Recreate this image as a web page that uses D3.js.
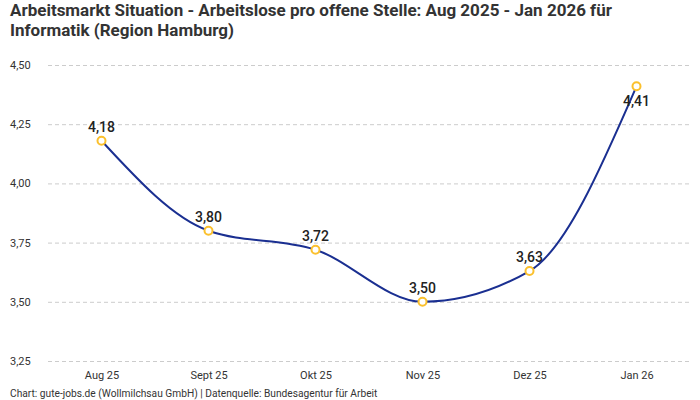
<!DOCTYPE html>
<html><head><meta charset="utf-8">
<script src="https://cdn.jsdelivr.net/npm/d3@7"></script>
<style>
body{margin:0;background:#fff;}
svg{display:block;font-family:Roboto,"Open Sans",sans-serif;}
</style></head>
<body><svg id="c" width="700" height="400"></svg>
<script>
const categories = ["Aug 25","Sept 25","Okt 25","Nov 25","Dez 25","Jan 26"];
const values = [4.18, 3.80, 3.72, 3.50, 3.63, 4.41];
const yTicks = [3.25, 3.50, 3.75, 4.00, 4.25, 4.50];
const titleLines = ["Arbeitsmarkt Situation - Arbeitslose pro offene Stelle: Aug 2025 - Jan 2026 für","Informatik (Region Hamburg)"];
const footer = "Chart: gute-jobs.de (Wollmilchsau GmbH) | Datenquelle: Bundesagentur für Arbeit";

const svg = d3.select("#c");
const fmt = v => d3.format(".2f")(v).replace(".", ",");
const x = d3.scalePoint().domain(categories).range([48, 690]).padding(0.5);
const y = d3.scaleLinear().domain([3.25, 4.50]).range([361, 65]);

svg.append("g").selectAll("text").data(titleLines).join("text")
  .attr("x", 10).attr("y", (d,i)=>16+i*20)
  .attr("font-size", 17).attr("font-weight", 700).attr("fill", "#333")
  .text(d=>d);

const ya = svg.append("g").attr("transform","translate(48,0)")
  .call(d3.axisLeft(y).tickValues(yTicks).tickSize(-642).tickFormat(fmt));
ya.select(".domain").remove();
ya.selectAll(".tick line").attr("stroke","#ccc").attr("stroke-dasharray","4,3");
ya.selectAll(".tick text").attr("x",-38).attr("text-anchor","start")
  .attr("font-size",11).attr("fill","#333").attr("font-family","Roboto,sans-serif");

const xa = svg.append("g").attr("transform","translate(0,361)")
  .call(d3.axisBottom(x).tickSize(0).tickPadding(10));
xa.select(".domain").remove();
xa.selectAll(".tick text").attr("font-size",11).attr("fill","#333").attr("font-family","Roboto,sans-serif");

const line = d3.line().x((d,i)=>x(categories[i])).y(d=>y(d)).curve(d3.curveMonotoneX);
svg.append("path").datum(values).attr("d", line)
  .attr("fill","none").attr("stroke","#1a2f91").attr("stroke-width",2);

svg.append("g").selectAll("circle").data(values).join("circle")
  .attr("cx",(d,i)=>x(categories[i])).attr("cy",d=>y(d)).attr("r",4)
  .attr("fill","#fff").attr("stroke","#fbc02d").attr("stroke-width",2);

svg.append("g").selectAll("text").data(values).join("text")
  .attr("x",(d,i)=>x(categories[i]))
  .attr("y",(d,i)=> i===values.length-1 ? y(d)+20 : y(d)-9)
  .attr("text-anchor","middle").attr("font-size",14).attr("font-weight",500)
  .attr("fill","#222").text(fmt);

svg.append("text").attr("x",10).attr("y",397).attr("font-size",10.2).attr("fill","#333").text(footer);
</script></body></html>
